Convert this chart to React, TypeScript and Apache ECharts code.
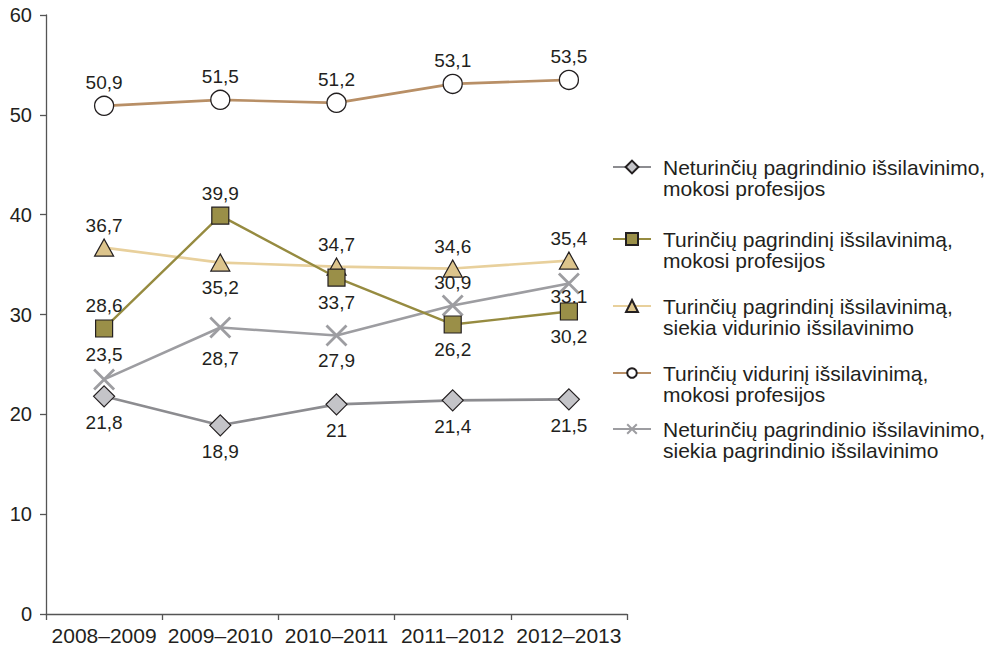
import React, { useEffect, useRef } from "react";
import * as echarts from "echarts";

const categories = ["2008–2009", "2009–2010", "2010–2011", "2011–2012", "2012–2013"];
const yTicks = { min: 0, max: 60, interval: 10 };

const names = [
  "Neturinčių pagrindinio išsilavinimo,\nmokosi profesijos",
  "Turinčių pagrindinį išsilavinimą,\nmokosi profesijos",
  "Turinčių pagrindinį išsilavinimą,\nsiekia vidurinio išsilavinimo",
  "Turinčių vidurinį išsilavinimą,\nmokosi profesijos",
  "Neturinčių pagrindinio išsilavinimo,\nsiekia pagrindinio išsilavinimo",
];

// values as plotted
const diamondValues = [21.8, 18.9, 21.0, 21.4, 21.5];
const squareValues = [28.6, 39.9, 33.7, 29.0, 30.3];
const triangleValues = [36.7, 35.2, 34.8, 34.6, 35.4];
const circleValues = [50.9, 51.5, 51.2, 53.1, 53.5];
const crossValues = [23.5, 28.7, 27.9, 30.9, 33.1];

// label texts as printed
const diamondLabels = ["21,8", "18,9", "21", "21,4", "21,5"];
const squareLabels = ["28,6", "39,9", "33,7", "26,2", "30,2"];
const triangleLabels = ["36,7", "35,2", "34,7", "34,6", "35,4"];
const circleLabels = ["50,9", "51,5", "51,2", "53,1", "53,5"];
const crossLabels = ["23,5", "28,7", "27,9", "30,9", "33,1"];

// label placement
const diamondPos = ["bottom", "bottom", "bottom", "bottom", "bottom"];
const squarePos = ["top", "top", "bottom", "bottom", "bottom"];
const trianglePos = ["top", "bottom", "top", "top", "top"];
const circlePos = ["top", "top", "top", "top", "top"];
const crossPos = ["top", "bottom", "bottom", "top", "bottom"];
const crossDist = [4, 10, 4, 2, -8];

const FONT = "'Liberation Sans', Arial, Helvetica, sans-serif";

function mkData(values: number[], labels: string[], pos: string[], dist?: number[]) {
  return values.map((v, i) => ({
    value: v,
    label: {
      position: pos[i],
      distance: dist ? dist[i] : pos[i] === "bottom" ? 6 : 4,
      formatter: labels[i],
    },
  }));
}

export default function App() {
  const ref = useRef<HTMLDivElement>(null);
  useEffect(() => {
    if (!ref.current) return;
    const chart = echarts.init(ref.current, null, { renderer: "svg" });
    const labelStyle = { show: true, fontSize: 19, color: "#231f20", fontFamily: FONT };
    const legendIconCenters = [167, 239, 306, 373, 429];
    const legendIconH = [16, 15, 15, 12, 12];
    const LH = 21;
    const option: any = {
      animation: false,
      textStyle: { fontFamily: FONT },
      grid: { left: 46, right: 368, top: 15, bottom: 36, containLabel: false },
      legend: names.map((n, i) => ({
        data: [n],
        left: 612,
        top: legendIconCenters[i] - (3 * LH) / 2,
        orient: "vertical",
        padding: 0,
        itemWidth: 38,
        itemHeight: legendIconH[i],
        selectedMode: false,
        formatter: (name: string) => "\n" + name,
        textStyle: {
          fontSize: 21,
          lineHeight: LH,
          color: "#231f20",
          fontFamily: FONT,
          padding: [0, 0, 0, 7],
        },
      })),
      xAxis: {
        type: "category",
        data: categories,
        boundaryGap: true,
        axisLine: { lineStyle: { color: "#555", width: 1.3 } },
        axisTick: { show: true, length: 6, alignWithLabel: false, lineStyle: { color: "#555", width: 1.3 } },
        axisLabel: { fontSize: 21, color: "#231f20", margin: 11, fontFamily: FONT, interval: 0 },
        splitLine: { show: false },
      },
      yAxis: {
        type: "value",
        min: yTicks.min,
        max: yTicks.max,
        interval: yTicks.interval,
        axisLine: { show: true, lineStyle: { color: "#555", width: 1.3 } },
        axisTick: { show: true, length: 6, lineStyle: { color: "#555", width: 1.3 } },
        axisLabel: { fontSize: 20, color: "#231f20", margin: 14, fontFamily: FONT },
        splitLine: { show: false },
      },
      series: [
        {
          name: names[3],
          type: "line",
          data: mkData(circleValues, circleLabels, circlePos),
          symbol: "circle",
          symbolSize: 19,
          lineStyle: { color: "#b88f66", width: 2.6 },
          itemStyle: { color: "#ffffff", borderColor: "#231f20", borderWidth: 1.3 },
          label: labelStyle,
          z: 2,
        },
        {
          name: names[2],
          type: "line",
          data: mkData(triangleValues, triangleLabels, trianglePos),
          symbol: "triangle",
          symbolSize: [19, 17],
          lineStyle: { color: "#e8d09c", width: 2.6 },
          itemStyle: { color: "#dcc48c", borderColor: "#231f20", borderWidth: 1.2 },
          label: labelStyle,
          z: 3,
        },
        {
          name: names[4],
          type: "line",
          data: mkData(crossValues, crossLabels, crossPos, crossDist),
          symbol: "path://M0,0L10,10M10,0L0,10",
          symbolSize: 20,
          lineStyle: { color: "#9d9da1", width: 2.6 },
          itemStyle: { color: "#9d9da1", borderColor: "#9d9da1", borderWidth: 2.8 },
          label: labelStyle,
          z: 4,
        },
        {
          name: names[1],
          type: "line",
          data: mkData(squareValues, squareLabels, squarePos),
          symbol: "rect",
          symbolSize: 17,
          lineStyle: { color: "#968b40", width: 2.4 },
          itemStyle: { color: "#9a8f48", borderColor: "#231f20", borderWidth: 1.2 },
          label: labelStyle,
          z: 5,
        },
        {
          name: names[0],
          type: "line",
          data: mkData(diamondValues, diamondLabels, diamondPos),
          symbol: "diamond",
          symbolSize: [21, 21],
          lineStyle: { color: "#8c8c90", width: 2.6 },
          itemStyle: { color: "#c4c4c8", borderColor: "#231f20", borderWidth: 1.2 },
          label: labelStyle,
          z: 6,
        },
      ],
    };
    chart.setOption(option);
    return () => chart.dispose();
  }, []);
  return <div ref={ref} style={{ width: 995, height: 650, position: "absolute", left: 0, top: 0 }} />;
}
